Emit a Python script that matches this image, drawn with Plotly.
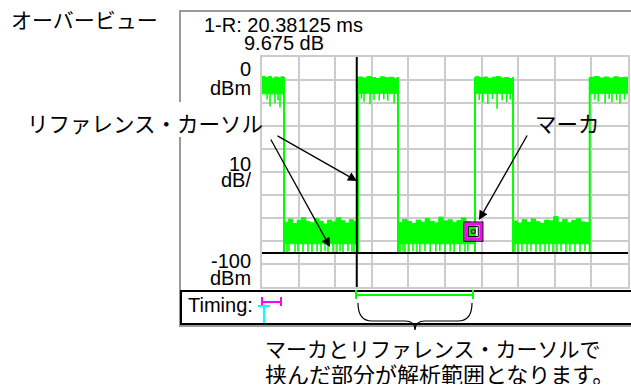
import plotly.graph_objects as go

W, H = 631, 387

# ---------------- data (time in ms, level in dBm) ----------------
x_range = [0, 64]
y_range = [-100, 0]

# burst segments: start / end (ms), 1 = burst on, 0 = off
seg_start = [0.0, 3.85, 16.79, 23.78, 37.25, 43.90, 57.30]
seg_end = [3.85, 16.79, 23.78, 37.25, 43.90, 57.30, 64.0]
seg_on = [1, 0, 1, 0, 1, 0, 1]

# upper envelope of the dense trace band in each segment (dBm)
seg_top = [
    [-8.4, -8.9, -8.5, -9.2, -8.7, -9.0, -8.6, -9.4],
    [-71.8, -70.5, -72.4, -71.0, -69.8, -71.6, -72.1, -70.3, -71.4, -72.6,
     -70.9, -71.7, -69.9, -71.2, -72.2, -70.7, -71.5, -68.8],
    [-8.7, -9.1, -8.5, -8.9, -9.3, -8.6, -9.0, -8.8, -9.2, -8.7],
    [-72.0, -70.6, -71.5, -72.3, -70.9, -71.8, -70.2, -71.4, -72.1, -69.6,
     -71.3, -70.8, -72.0, -71.1, -69.9, -71.6, -72.4, -70.5],
    [-8.6, -9.0, -8.7, -9.3, -8.8, -8.5, -9.1, -8.9, -9.4, -8.7],
    [-71.3, -72.2, -70.7, -71.9, -70.4, -71.6, -72.3, -70.9, -71.2, -69.4,
     -71.8, -70.6, -72.1, -71.0, -70.3, -71.7, -72.0, -71.4],
    [-8.8, -8.5, -9.1, -8.7, -9.2, -8.6, -9.0, -8.8, -9.3],
]
# lower edge of the dense band (dBm)
seg_body = [-16.0, -81.2, -15.8, -81.2, -15.8, -81.2, -15.8]

# deep dips of the trace (ms, dBm)
dip_t = [0.9, 1.4, 2.27, 2.8, 3.15,
         4.37, 4.72, 5.77, 6.29, 7.17, 8.04, 8.74, 9.62, 10.32, 11.02, 11.54,
         12.42, 13.11, 13.64, 14.16, 15.04, 15.74, 16.09,
         17.4, 17.84, 18.9, 19.6, 20.5, 21.3, 22.0, 23.1,
         24.13, 24.66, 25.0, 25.7, 26.4, 27.1, 27.6, 28.5, 29.4, 30.4, 31.1,
         32.0, 32.9, 33.6, 34.6, 35.5, 36.0,
         38.0, 38.6, 39.5, 40.3, 41.1, 42.0, 42.8, 43.4,
         44.24, 44.76, 45.46, 46.34, 47.04, 47.91, 48.61, 49.49, 50.18, 50.88,
         51.58, 52.28, 53.16, 53.86, 54.73, 55.61, 56.48,
         58.2, 58.8, 60.0, 60.7, 61.2, 62.0, 62.6, 63.4]
dip_y = [-18.5, -21.5, -20.0, -18.8, -22.0,
         -84.8, -84.6, -84.9, -84.5, -84.8, -84.7, -84.9, -84.6, -84.8, -84.5, -84.9,
         -84.7, -84.8, -84.6, -84.9, -84.5, -84.8, -84.7,
         -18.2, -19.5, -20.5, -18.6, -18.9, -18.4, -19.0, -20.2,
         -84.8, -84.6, -84.9, -84.7, -84.5, -84.8, -84.9, -84.6, -84.8, -84.7, -84.5,
         -84.9, -84.6, -84.8, -84.7, -84.9, -84.6,
         -18.7, -19.8, -20.4, -18.3, -22.5, -18.8, -19.6, -18.5,
         -84.7, -84.9, -84.6, -84.8, -84.5, -84.9, -84.7, -84.8, -84.6, -84.9,
         -84.7, -84.5, -84.8, -84.6, -84.9, -84.7, -84.5,
         -18.6, -19.4, -20.1, -18.3, -19.7, -18.8, -20.3, -18.5]

ref_cursor_ms = 16.57
marker_ms = 36.95
marker_dbm = -75.9
threshold_dbm = -85.2

readout_1 = "1-R: 20.38125 ms"
readout_2 = "9.675 dB"
y_labels = [("0", "dBm"), ("10", "dB/"), ("-100", "dBm")]

GREEN = "#00ff00"
GRID = "#cccccc"


def PX(x):
    return x / W


def PY(y):
    return 1 - y / H


fig = go.Figure()

# ---------------- trace bands ----------------
for s, e, top, body in zip(seg_start, seg_end, seg_top, seg_body):
    n = len(top)
    xs = [s + (e - s) * i / (n - 1) for i in range(n)]
    fig.add_trace(go.Scatter(
        x=xs + [e, s], y=top + [body, body], mode="lines",
        line=dict(color=GREEN, width=1, shape="hv"),
        fill="toself", fillcolor=GREEN, hoverinfo="skip"))

# transitions
ex, ey = [], []
for i in range(1, len(seg_start)):
    ex += [seg_start[i], seg_start[i], None]
    ey += [-84.8, -8.8, None]
fig.add_trace(go.Scatter(x=ex, y=ey, mode="lines",
                         line=dict(color=GREEN, width=2), hoverinfo="skip"))

# dips
dx, dy = [], []
for t, d in zip(dip_t, dip_y):
    on = any(s <= t < e and o for s, e, o in zip(seg_start, seg_end, seg_on))
    dx += [t, t, None]
    dy += [-15.0 if on else -80.0, d, None]
fig.add_trace(go.Scatter(x=dx, y=dy, mode="lines",
                         line=dict(color=GREEN, width=1.6), hoverinfo="skip"))

# marker (black outer outline, magenta frame, black inner outline, centre dot)
for size, color, lw in [(19, "black", 1.2), (15, "#ff00ff", 3), (10, "black", 1)]:
    fig.add_trace(go.Scatter(x=[marker_ms], y=[marker_dbm], mode="markers",
                             marker=dict(symbol="square-open", size=size, color=color,
                                         line=dict(color=color, width=lw)),
                             hoverinfo="skip"))
fig.add_trace(go.Scatter(x=[marker_ms], y=[marker_dbm], mode="markers",
                         marker=dict(symbol="circle-open", size=4, color="#800080",
                                     line=dict(color="#800080", width=1.5)),
                         hoverinfo="skip"))

shapes = []
# outer gray frame
shapes.append(dict(type="rect", xref="paper", yref="paper",
                   x0=PX(180), x1=PX(645), y0=PY(326), y1=PY(11),
                   line=dict(color="#9a9a9a", width=2), layer="between"))
# white label boxes
shapes.append(dict(type="rect", xref="paper", yref="paper",
                   x0=PX(20), x1=PX(276), y0=PY(137), y1=PY(102),
                   fillcolor="white", line=dict(width=0), layer="between"))
shapes.append(dict(type="rect", xref="paper", yref="paper",
                   x0=PX(527), x1=PX(604), y0=PY(137), y1=PY(107),
                   fillcolor="white", line=dict(width=0), layer="between"))
# threshold line
shapes.append(dict(type="line", xref="x", yref="y", x0=x_range[0], x1=x_range[1],
                   y0=threshold_dbm, y1=threshold_dbm,
                   line=dict(color="black", width=2), layer="above"))
# reference cursor
shapes.append(dict(type="line", xref="x", yref="y", x0=ref_cursor_ms, x1=ref_cursor_ms,
                   y0=y_range[0], y1=y_range[1],
                   line=dict(color="black", width=2), layer="above"))
# timing box
shapes.append(dict(type="rect", xref="paper", yref="paper",
                   x0=PX(181), x1=PX(645), y0=PY(324), y1=PY(291),
                   line=dict(color="black", width=2), layer="above"))
# magenta bracket
for (a, b, c, d) in [(262, 302, 281, 302), (262, 297, 262, 306), (281, 297, 281, 306)]:
    shapes.append(dict(type="line", xref="paper", yref="paper",
                       x0=PX(a), y0=PY(b), x1=PX(c), y1=PY(d),
                       line=dict(color="#ff00ff", width=2), layer="above"))
# cyan T
for (a, b, c, d) in [(258, 306, 270, 306), (264, 306, 264, 323)]:
    shapes.append(dict(type="line", xref="paper", yref="paper",
                       x0=PX(a), y0=PY(b), x1=PX(c), y1=PY(d),
                       line=dict(color="#00ffff", width=2), layer="above"))
# green analysis range bracket
for (a, b, c, d) in [(356, 295, 473, 295), (356, 290, 356, 299), (473, 290, 473, 299)]:
    shapes.append(dict(type="line", xref="paper", yref="paper",
                       x0=PX(a), y0=PY(b), x1=PX(c), y1=PY(d),
                       line=dict(color=GREEN, width=2), layer="above"))


# curly brace
def P(x, y):
    return f"{PX(x):.5f},{PY(y):.5f}"


brace = (f"M {P(358, 303)} Q {P(358, 321)} {P(372, 321)} L {P(405, 321)} "
         f"Q {P(415, 321)} {P(415, 330)} Q {P(415, 321)} {P(425, 321)} "
         f"L {P(458, 321)} Q {P(472, 321)} {P(472, 303)}")
shapes.append(dict(type="path", xref="paper", yref="paper", path=brace,
                   line=dict(color="black", width=1.2), layer="above"))

LAT = "Liberation Sans, Arial, sans-serif"
JP = "Noto Sans CJK JP"

ann = []


def text(t, x, y, size, font, xanchor="center", h=None):
    a = dict(text=t, x=PX(x), y=PY(y), xref="paper", yref="paper",
             xanchor=xanchor, yanchor="middle", showarrow=False,
             font=dict(family=font, size=size, color="black"))
    if h:
        a["height"] = h
    ann.append(a)


text("オーバービュー", 84, 18.5, 21, JP)
text(readout_1, 283, 24.5, 20, LAT, h=18)
text(readout_2, 284, 42.5, 20, LAT, h=18)
label_y = [(68, 87.5), (163.5, 179), (260, 277.5)]
for (a, b), (ya, yb) in zip(y_labels, label_y):
    text(a, 253, ya, 20, LAT, "right", h=15)
    text(b, 253, yb, 20, LAT, "right", h=15)
text("Timing:", 186, 304.5, 20, LAT, "left")
text("リファレンス・カーソル", 145, 122.5, 21.5, JP)
text("マーカ", 567, 122.5, 21.5, JP)
text("マーカとリファレンス・カーソルで", 263, 347.5, 21, JP, "left", h=23)
text("挟んだ部分が解析範囲となります。", 263, 372, 22, JP, "left", h=23)

# arrows: (tip_x, tip_y, tail_x, tail_y) in pixels
for tx, ty, sx, sy in [(357, 181, 276, 135), (330, 247, 270, 138), (479, 220, 528, 134)]:
    ann.append(dict(text="", x=PX(tx), y=PY(ty), xref="paper", yref="paper",
                    ax=sx - tx, ay=sy - ty, showarrow=True, arrowhead=2,
                    arrowsize=1.4, arrowwidth=1.3, arrowcolor="black", standoff=0))

fig.update_layout(
    width=W, height=H, margin=dict(l=0, r=0, t=0, b=0),
    paper_bgcolor="white", plot_bgcolor="white", showlegend=False,
    shapes=shapes, annotations=ann,
    xaxis=dict(domain=[PX(262), PX(628)], range=x_range, dtick=6.4, tick0=0,
               showgrid=True, gridcolor=GRID, gridwidth=2, zeroline=False,
               showticklabels=False, ticks="", showline=True, linecolor=GRID,
               linewidth=2, mirror=True, fixedrange=True),
    yaxis=dict(domain=[PY(287), PY(57)], range=y_range, dtick=10, tick0=0,
               showgrid=True, gridcolor=GRID, gridwidth=2, zeroline=False,
               showticklabels=False, ticks="", showline=True, linecolor=GRID,
               linewidth=2, mirror=True, fixedrange=True),
)

fig.write_html("out.html", config={"displayModeBar": False},
               post_script="document.body.style.margin='0px';"
                           "document.body.style.overflow='hidden';")
